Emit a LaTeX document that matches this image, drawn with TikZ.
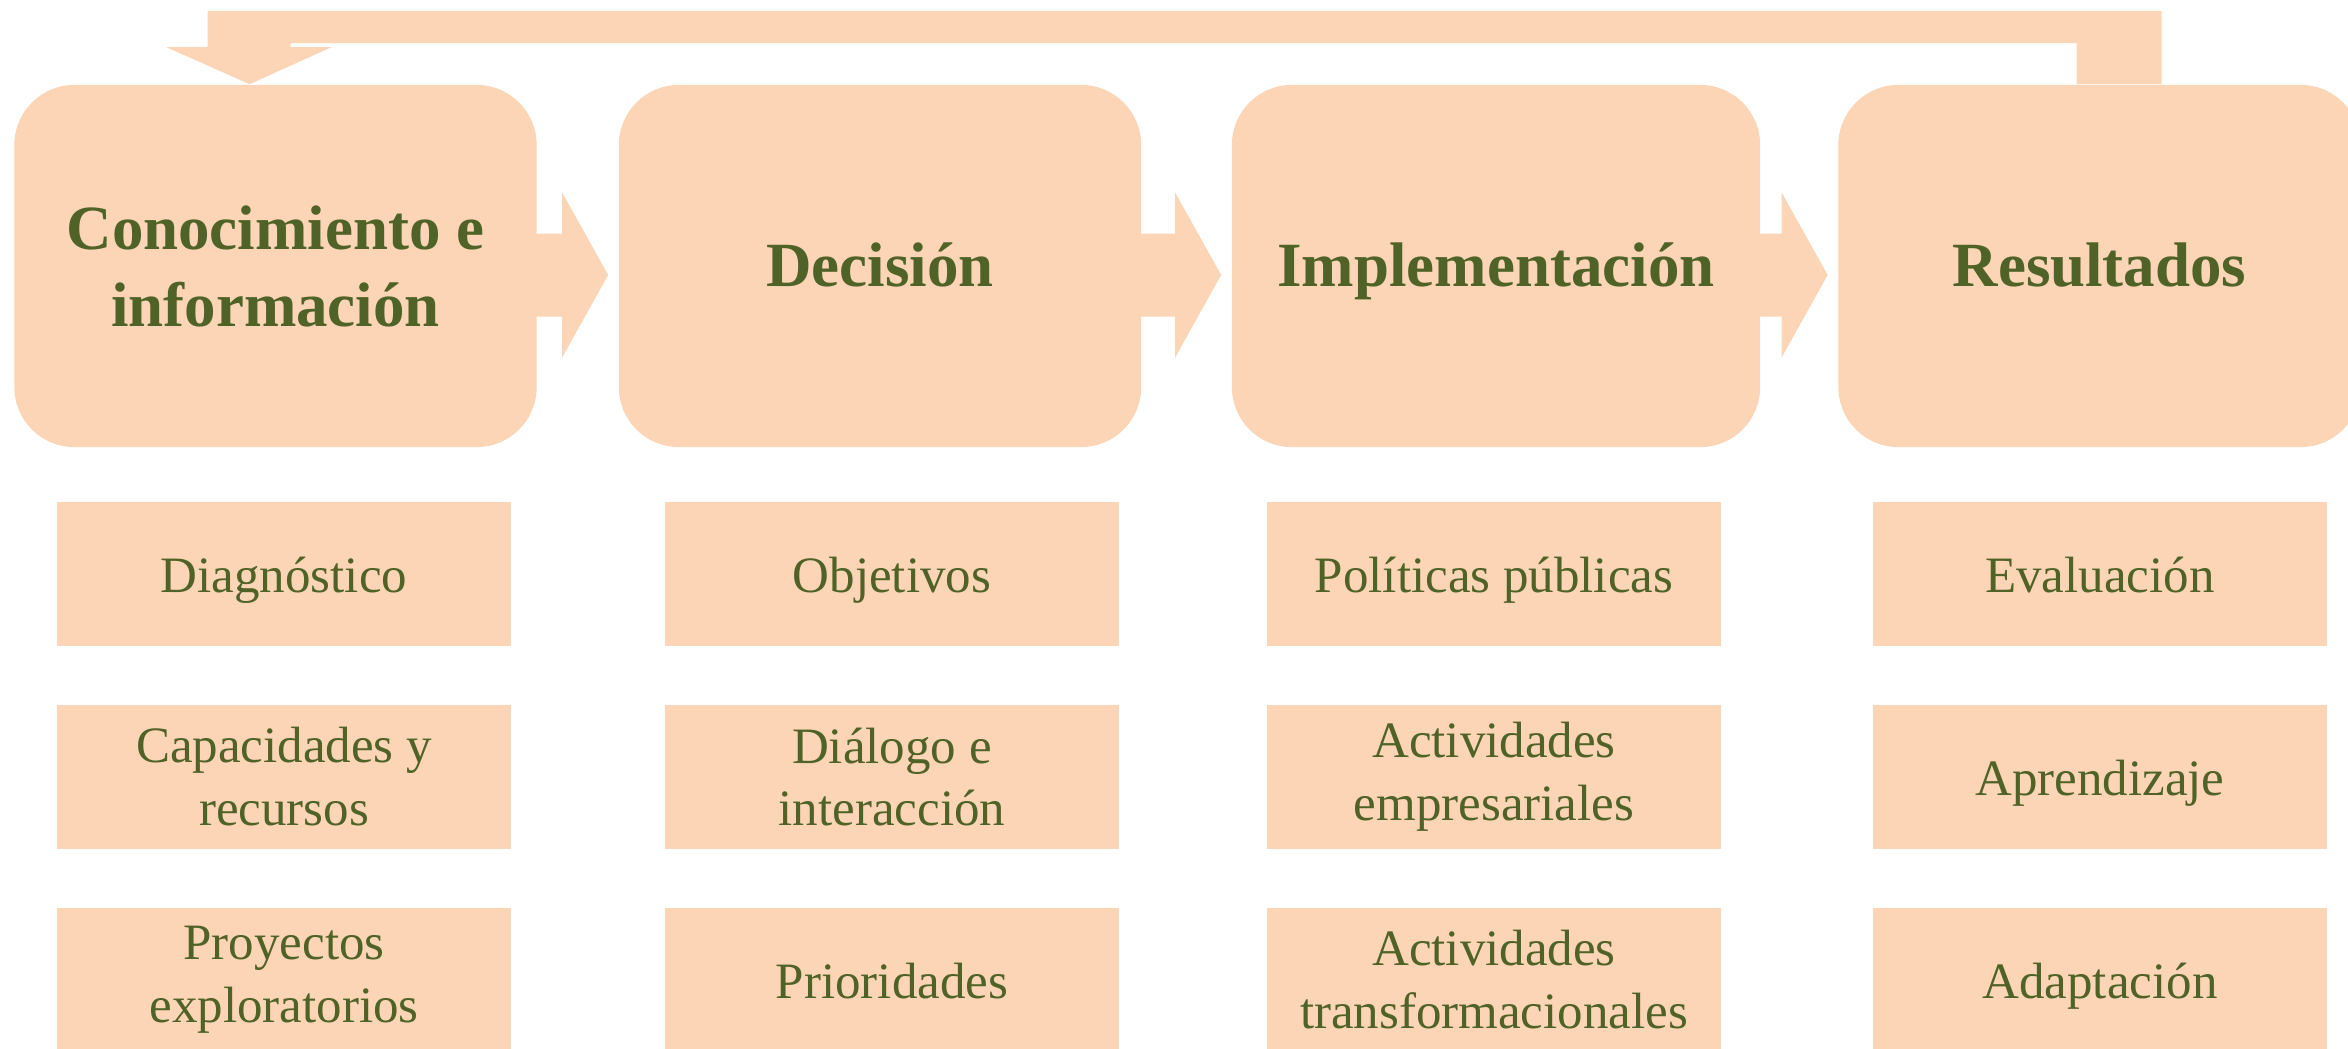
\documentclass[tikz,border=0pt]{standalone}
\usepackage{fontspec}
\setmainfont{Liberation Serif}
\usetikzlibrary{calc}
\definecolor{boxfill}{RGB}{251,213,181}
\definecolor{textgreen}{RGB}{79,98,40}
\newcommand\blkarrow[2]{%
  \fill[boxfill] ($(#1.east)+(-2,-32.5)$) -- ($(#2.west)+(-56,-32.5)$) -- ($(#2.west)+(-56,-73.5)$)
    -- ($(#2.west)+(-10,9)$) -- ($(#2.west)+(-56,91.5)$) -- ($(#2.west)+(-56,50.5)$)
    -- ($(#1.east)+(-2,50.5)$) -- cycle;}
\begin{document}
\begin{tikzpicture}[x=0.01cm, y=-0.01cm,
  head/.style={fill=boxfill, rounded corners=0.6cm, minimum width=5.22cm, minimum height=3.62cm,
    inner sep=0pt, align=center, text=textgreen, font=\fontsize{17.9}{21.9}\selectfont\bfseries},
  headone/.style={head, text height=0.6cm, text depth=0.2cm},
  item/.style={fill=boxfill, minimum width=4.54cm, minimum height=1.44cm,
    inner sep=0pt, align=center, text=textgreen, font=\fontsize{14.5}{17.9}\selectfont},
  itemone/.style={item, text height=0.5cm, text depth=0.14cm}]
\useasboundingbox (0,0) rectangle (2348,1048);
\clip (0,0) rectangle (2348,1048);
% header boxes
\node[head] (h1) at (275.5,266) {Conocimiento e\\información};
\node[headone] (h2) at (880,266) {Decisión};
\node[headone, minimum width=5.28cm] (h3) at (1496,266) {Implementación};
\node[headone] (h4) at (2099.5,266) {Resultados};
% block arrows
\blkarrow{h1}{h2}
\blkarrow{h2}{h3}
\blkarrow{h3}{h4}
% feedback arrow
\coordinate (fbT) at ($(h1.north)+(-26,0)$);
\coordinate (fbR) at ($(h4.north)+(62,0)$);
\fill[boxfill] (fbR) -- ($(fbR)+(0,-73)$) -- ($(fbT)+(-42,-73)$) -- ($(fbT)+(-42,-37)$)
  -- ($(fbT)+(-83,-37)$) -- (fbT) -- ($(fbT)+(82,-37)$) -- ($(fbT)+(41,-37)$)
  -- ($(fbT)+(41,-41)$) -- ($(fbR)+(-85,-41)$) -- ($(fbR)+(-85,0)$) -- cycle;
% item boxes
\node[itemone] (a1) at (284,574) {Diagnóstico};
\node[item] (a2) at (284,777) {Capacidades y\\recursos};
\node[item] (a3) at (284,980) {Proyectos\\exploratorios};
\node[itemone] (b1) at (892,574) {Objetivos};
\node[item] (b2) at (892,777) {Diálogo e\\interacción};
\node[itemone] (b3) at (892,980) {Prioridades};
\node[itemone] (c1) at (1494,574) {Políticas públicas};
\node[item] (c2) at (1494,777) {Actividades\\empresariales};
\node[item] (c3) at (1494,980) {Actividades\\transformacionales};
\node[itemone] (d1) at (2100,574) {Evaluación};
\node[itemone] (d2) at (2100,777) {Aprendizaje};
\node[itemone] (d3) at (2100,980) {Adaptación};
\end{tikzpicture}
\end{document}
